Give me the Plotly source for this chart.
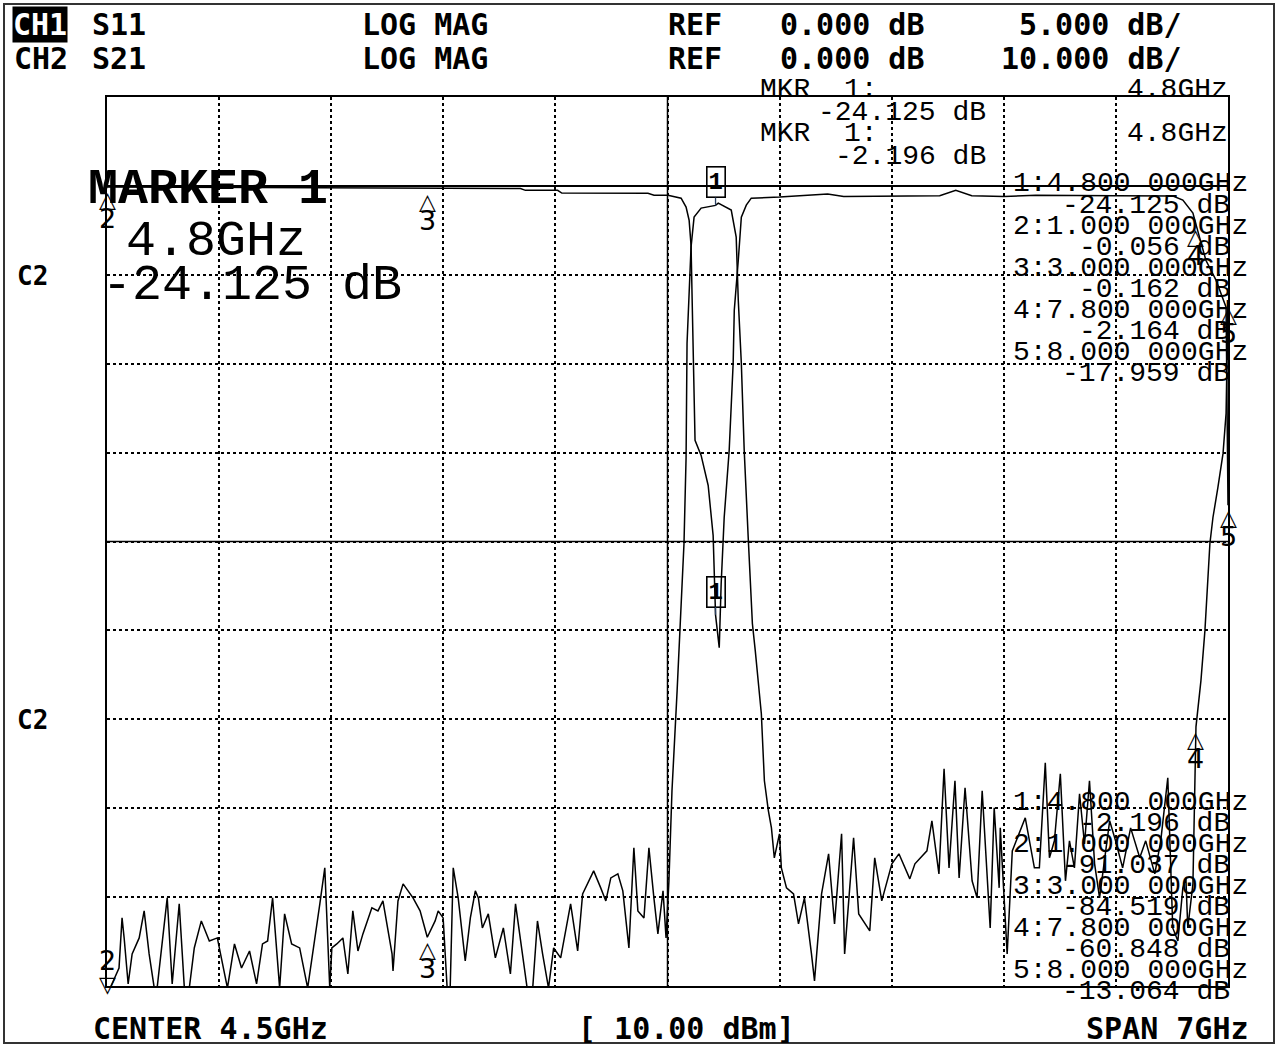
import plotly.graph_objects as go

# ---------------- data ----------------
freq_start, freq_stop = 1.0, 8.0          # GHz (center 4.5, span 7)
s11_ref, s11_scale = 0.0, 5.0             # dB, dB/div
s21_ref, s21_scale = 0.0, 10.0
ref_pos_div = 9                           # reference line division (from bottom)

s11_freq = [1.000, 2.000, 3.000, 3.582, 3.613, 3.814, 3.840, 4.065, 4.378, 4.416,
            4.503, 4.585, 4.616, 4.635, 4.647, 4.654, 4.660, 4.672, 4.710, 4.754,
            4.785, 4.800, 4.823, 4.835, 4.854, 4.885, 4.910, 4.917, 4.942, 4.961,
            4.992, 5.023, 5.200, 5.500, 5.600, 6.200, 6.300, 6.400, 6.600, 6.800,
            7.300, 7.656, 7.718, 7.781, 7.800, 7.862, 7.925, 7.988, 8.000]
s11_db = [-0.056, -0.10, -0.162, -0.15, -0.25, -0.25, -0.40, -0.42, -0.42, -0.52,
          -0.52, -0.69, -1.19, -1.93, -3.33, -6.43, -9.81, -14.31, -15.16, -16.85,
          -19.66, -24.125, -25.97, -22.40, -18.65, -14.90, -9.98, -6.99, -4.18, -1.76,
          -1.08, -0.69, -0.63, -0.45, -0.60, -0.55, -0.25, -0.55, -0.60, -0.52,
          -0.55, -0.57, -0.80, -1.53, -2.164, -4.18, -5.30, -6.82, -17.959]

s21_freq = [1.000, 1.075, 1.094, 1.107, 1.132, 1.157, 1.201, 1.232, 1.263, 1.295,
            1.313, 1.338, 1.376, 1.407, 1.451, 1.483, 1.514, 1.545, 1.589, 1.639,
            1.689, 1.714, 1.752, 1.796, 1.840, 1.890, 1.934, 1.971, 2.003, 2.034,
            2.078, 2.109, 2.153, 2.203, 2.253, 2.329, 2.360, 2.391, 2.404, 2.435,
            2.473, 2.504, 2.535, 2.567, 2.598, 2.654, 2.692, 2.723, 2.748, 2.780,
            2.786, 2.817, 2.849, 2.911, 2.955, 3.000, 3.049, 3.068, 3.099, 3.124,
            3.143, 3.162, 3.193, 3.237, 3.269, 3.300, 3.319, 3.344, 3.381, 3.425,
            3.475, 3.519, 3.551, 3.582, 3.626, 3.657, 3.688, 3.720, 3.757, 3.789,
            3.833, 3.895, 3.939, 3.970, 4.039, 4.083, 4.115, 4.146, 4.190, 4.221,
            4.259, 4.290, 4.315, 4.353, 4.384, 4.415, 4.440, 4.472, 4.491, 4.509,
            4.528, 4.560, 4.572, 4.585, 4.603, 4.616, 4.622, 4.647, 4.666, 4.710,
            4.800, 4.817, 4.898, 4.929, 4.942, 4.961, 4.979, 5.004, 5.030, 5.048,
            5.067, 5.086, 5.105, 5.130, 5.149, 5.167, 5.199, 5.211, 5.243, 5.287,
            5.318, 5.355, 5.399, 5.418, 5.462, 5.506, 5.543, 5.587, 5.606, 5.662,
            5.694, 5.763, 5.794, 5.838, 5.901, 5.945, 6.013, 6.045, 6.120, 6.151,
            6.195, 6.227, 6.258, 6.295, 6.321, 6.358, 6.402, 6.433, 6.465, 6.483,
            6.515, 6.540, 6.571, 6.578, 6.621, 6.653, 6.697, 6.734, 6.791, 6.822,
            6.859, 6.885, 6.916, 6.953, 6.985, 7.010, 7.041, 7.073, 7.104, 7.135,
            7.167, 7.198, 7.261, 7.298, 7.342, 7.392, 7.449, 7.486, 7.543, 7.580,
            7.624, 7.655, 7.687, 7.718, 7.737, 7.749, 7.781, 7.800, 7.831, 7.856,
            7.887, 7.906, 7.937, 7.969, 7.988, 8.000]
s21_db = [-91.04, -87.97, -82.34, -84.59, -89.77, -86.39, -84.59, -81.55, -86.39, -90.22,
          -90.22, -86.06, -80.09, -89.77, -80.76, -90.22, -90.22, -85.72, -82.68, -84.93,
          -84.59, -86.84, -90.22, -85.27, -87.97, -86.06, -89.77, -85.27, -84.93, -80.09,
          -90.22, -81.89, -85.27, -85.72, -90.22, -80.76, -76.71, -90.22, -85.72, -85.27,
          -84.59, -88.65, -81.55, -86.06, -84.14, -81.21, -81.55, -80.43, -83.02, -86.39,
          -88.31, -80.43, -78.51, -80.09, -81.55, -84.52, -82.68, -81.55, -82.34, -90.22,
          -90.22, -76.71, -80.09, -87.18, -82.34, -79.30, -80.09, -83.47, -81.89, -86.84,
          -83.47, -88.65, -80.76, -84.93, -90.56, -90.56, -82.68, -86.39, -90.22, -85.72,
          -86.84, -80.76, -86.06, -79.64, -77.05, -78.96, -80.43, -77.84, -77.39, -79.30,
          -85.72, -74.46, -81.55, -82.34, -74.46, -80.09, -84.14, -79.30, -84.59, -78.17,
          -68.04, -56.80, -52.27, -46.64, -40.22, -30.54, -17.70, -6.89, -3.51, -2.50,
          -2.196, -1.94, -2.72, -5.77, -12.86, -19.95, -29.75, -39.55, -49.23, -52.27,
          -55.65, -59.37, -66.91, -70.29, -72.21, -75.58, -72.88, -76.71, -78.96, -79.64,
          -83.02, -80.09, -86.39, -89.43, -79.64, -75.13, -83.02, -72.88, -86.39, -73.33,
          -81.89, -83.80, -75.58, -80.43, -76.26, -75.13, -77.95, -76.26, -74.80, -71.42,
          -77.39, -65.56, -76.71, -66.91, -77.84, -67.70, -78.17, -80.09, -68.04, -73.67,
          -83.47, -69.95, -78.96, -72.21, -86.39, -74.80, -72.88, -71.08, -76.71, -76.71,
          -64.89, -75.58, -73.67, -66.12, -78.17, -73.67, -76.71, -68.38, -74.01, -66.91,
          -76.26, -80.09, -71.42, -73.67, -76.71, -72.21, -75.58, -73.67, -77.39, -73.67,
          -66.57, -83.47, -84.93, -78.96, -77.84, -83.47, -78.51, -60.848, -55.65, -50.00,
          -40.22, -37.30, -33.92, -30.09, -25.58, -13.064]

marker_ids = [1, 2, 3, 4, 5]
marker_freq = [4.8, 1.0, 3.0, 7.8, 8.0]
marker_s11 = [-24.125, -0.056, -0.162, -2.164, -17.959]
marker_s21 = [-2.196, -91.037, -84.519, -60.848, -13.064]

hdr_ch = ["CH1", "CH2"]
hdr_param = ["S11", "S21"]
hdr_fmt = ["LOG MAG", "LOG MAG"]
hdr_ref = ["0.000 dB", "0.000 dB"]
hdr_scale = ["5.000 dB/", "10.000 dB/"]
footer = ["CENTER 4.5GHz", "[ 10.00 dBm]", "SPAN 7GHz"]

# ---------------- layout geometry ----------------
W, H = 1278, 1048
L, R, T, B = 107, 1228, 97, 986
PW, PH = R - L, B - T


def px(x):
    return (x - L) / PW


def py(y):
    return (B - y) / PH


s11_range = [s11_ref - ref_pos_div * s11_scale, s11_ref + (10 - ref_pos_div) * s11_scale]
s21_range = [s21_ref - ref_pos_div * s21_scale, s21_ref + (10 - ref_pos_div) * s21_scale]

fig = go.Figure()
fig.add_trace(go.Scatter(x=s11_freq, y=s11_db, mode="lines", yaxis="y",
                         line=dict(color="black", width=1.5), hoverinfo="skip",
                         showlegend=False))
fig.add_trace(go.Scatter(x=s21_freq, y=s21_db, mode="lines", yaxis="y2",
                         line=dict(color="black", width=1.5), hoverinfo="skip",
                         showlegend=False))

HDR = dict(family="DejaVu Sans Mono", size=30, color="black", weight="bold")
THIN = dict(family="Liberation Mono", size=28, color="black")
BIG = dict(family="Liberation Mono", size=50, color="black")
NUM = dict(family="DejaVu Sans", size=27, color="black")
TRI = dict(family="DejaVu Sans", size=22, color="black", weight="bold")

ann = []


def text(s, x, y, font, xanchor="left", yanchor="middle", **kw):
    ann.append(dict(text=s, x=px(x), y=py(y), xref="paper", yref="paper",
                    xanchor=xanchor, yanchor=yanchor, showarrow=False,
                    font=font, **kw))


# header rows
for i, yy in enumerate([25, 59]):
    if i == 0:
        text(hdr_ch[i], 12, yy, dict(HDR, color="white"), bgcolor="black", borderpad=0)
    else:
        text(hdr_ch[i], 12, yy, HDR)
    text(hdr_param[i], 90, yy, HDR)
    text(hdr_fmt[i], 360, yy, HDR)
    text("REF", 666, yy, HDR)
    text(hdr_ref[i], 778, yy, HDR)
    text(hdr_scale[i], 1184, yy, HDR, xanchor="right")

# footer
text(footer[0], 91, 1028, HDR)
text(footer[1], 576, 1028, HDR)
text(footer[2], 1251, 1028, HDR, xanchor="right")

# C2 labels
text("C2", 15, 276, dict(HDR, size=26))
text("C2", 15, 720, dict(HDR, size=26))

# active marker readouts (top)
text("MKR  1:", 758, 89, THIN)
text(f"{marker_freq[0]:.1f}GHz", 1230, 89, THIN, xanchor="right")
text(f"{marker_s11[0]:.3f} dB", 988, 112, THIN, xanchor="right")
text("MKR  1:", 758, 134, THIN)
text(f"{marker_freq[0]:.1f}GHz", 1230, 134, THIN, xanchor="right")
text(f"{marker_s21[0]:.3f} dB", 988, 156, THIN, xanchor="right")

# marker lists
for base, vals in [(184, marker_s11), (802, marker_s21)]:
    for k, (mid, f, v) in enumerate(zip(marker_ids, marker_freq, vals)):
        yl = base + k * 42.2
        text(f"{mid}:{f:.3f} 000GHz", 1250, yl, THIN, xanchor="right")
        text(f"{v:.3f} dB", 1232, yl + 21, THIN, xanchor="right")

# big marker readout
text("MARKER 1", 86, 190, dict(BIG, weight="bold"))
text(f"{marker_freq[0]:.1f}GHz", 124, 241, BIG)
text(f"{marker_s11[0]:.3f} dB", 100, 285, BIG)

# marker symbols on the traces
for yref, vals, rng in [("y", marker_s11, s11_range), ("y2", marker_s21, s21_range)]:
    for mid, f, v in zip(marker_ids, marker_freq, vals):
        if mid == 1:
            ann.append(dict(text="<b>1</b>", x=f, y=v, xref="x", yref=yref,
                            showarrow=True, arrowhead=0, arrowwidth=1.3, ax=0, ay=-23,
                            bordercolor="black", borderwidth=1.6, borderpad=1,
                            font=dict(family="Liberation Mono", size=24, color="black")))
        elif v < rng[0]:
            ann.append(dict(text="▽", x=f, y=rng[0], xref="x", yref=yref, showarrow=False,
                            yanchor="middle", yshift=2, font=TRI))
            ann.append(dict(text=str(mid), x=f, y=rng[0], xref="x", yref=yref, showarrow=False,
                            yanchor="bottom", yshift=8, font=NUM))
        else:
            ann.append(dict(text="△", x=f, y=v, xref="x", yref=yref, showarrow=False,
                            yanchor="top", yshift=2, font=TRI))
            ann.append(dict(text=str(mid), x=f, y=v, xref="x", yref=yref, showarrow=False,
                            yanchor="top", yshift=-14, font=NUM))

shapes = [
    # reference line
    dict(type="line", xref="paper", yref="y", x0=0, x1=1, y0=s11_ref, y1=s11_ref,
         line=dict(color="black", width=2)),
    # center graticule lines
    dict(type="line", xref="x", yref="paper", x0=(freq_start + freq_stop) / 2,
         x1=(freq_start + freq_stop) / 2, y0=0, y1=1, line=dict(color="black", width=1.5)),
    dict(type="line", xref="paper", yref="y", x0=0, x1=1,
         y0=sum(s11_range) / 2, y1=sum(s11_range) / 2, line=dict(color="black", width=1.5)),
    # outer frame of the screen
    dict(type="rect", xref="paper", yref="paper", x0=px(4), x1=px(1274),
         y0=py(1043), y1=py(4), line=dict(color="#333333", width=2)),
]

grid = dict(showgrid=True, gridcolor="black", gridwidth=1.6, griddash="dot",
            showticklabels=False, ticks="", zeroline=False,
            showline=True, mirror=True, linecolor="black", linewidth=1.6)

fig.update_layout(
    width=W, height=H,
    margin=dict(l=L, r=W - R, t=T, b=H - B, pad=0),
    paper_bgcolor="white", plot_bgcolor="white",
    xaxis=dict(range=[freq_start, freq_stop], tick0=freq_start,
               dtick=(freq_stop - freq_start) / 10, **grid),
    yaxis=dict(range=s11_range, tick0=s11_ref, dtick=s11_scale, **grid),
    yaxis2=dict(range=s21_range, overlaying="y", visible=False),
    annotations=ann, shapes=shapes, showlegend=False,
)

fig.write_html("out.html", config={"displayModeBar": False},
               post_script="document.body.style.margin='0';document.body.style.overflow='hidden';")
